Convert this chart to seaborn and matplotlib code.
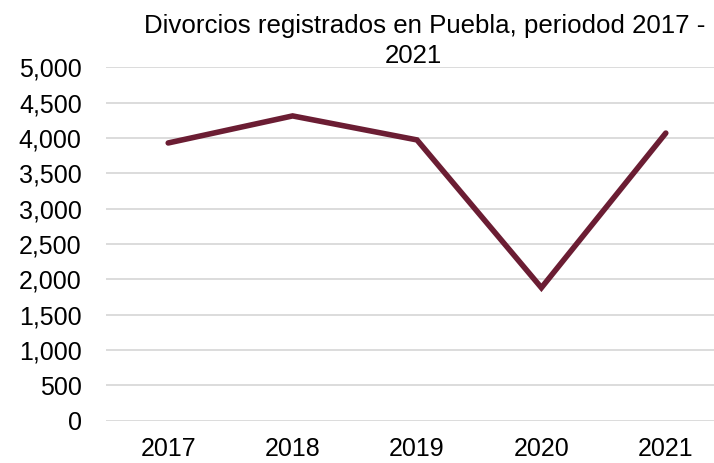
import matplotlib
matplotlib.use("Agg")
import matplotlib.pyplot as plt
import seaborn as sns
import pandas as pd
from matplotlib.ticker import FuncFormatter, MultipleLocator

years = ["2017", "2018", "2019", "2020", "2021"]
divorcios = [3930, 4313, 3973, 1880, 4070]
title_lines = ["Divorcios registrados en Puebla, periodod 2017 -", "2021"]

sns.set_theme(style="white")
plt.rcParams['font.family'] = ['Liberation Sans', 'DejaVu Sans']

df = pd.DataFrame({"Año": years, "Divorcios": divorcios})

fig = plt.figure(figsize=(7.14, 4.63), dpi=100)
ax = fig.add_axes([106/714, 1-420.5/463, 622/714, 353.1/463])
sns.lineplot(data=df, x="Año", y="Divorcios", ax=ax, color="#6B1D33",
             linewidth=4, sort=False, solid_capstyle="round", solid_joinstyle="miter")
ax.set_xlim(-0.5, 4.5)
ax.set_ylim(0, 5000)
ax.yaxis.set_major_locator(MultipleLocator(500))
ax.yaxis.set_major_formatter(FuncFormatter(lambda v, p: f"{int(v):,}"))
ax.grid(axis="y", color="#D9D9D9", linewidth=1.3)
ax.set_axisbelow(True)
for s in ax.spines.values():
    s.set_visible(False)
ax.tick_params(axis="both", length=0, labelsize=18, colors="black")
ax.tick_params(axis="y", pad=17.5)
ax.tick_params(axis="x", pad=12)
ax.set_xlabel("")
ax.set_ylabel("")
fig.text(425/714, 1-33/463, title_lines[0], ha="center", va="baseline",
         fontsize=18.6, color="black")
fig.text(413/714, 1-63/463, title_lines[1], ha="center", va="baseline",
         fontsize=18.6, color="black")
fig.savefig("out.png", dpi=100)
